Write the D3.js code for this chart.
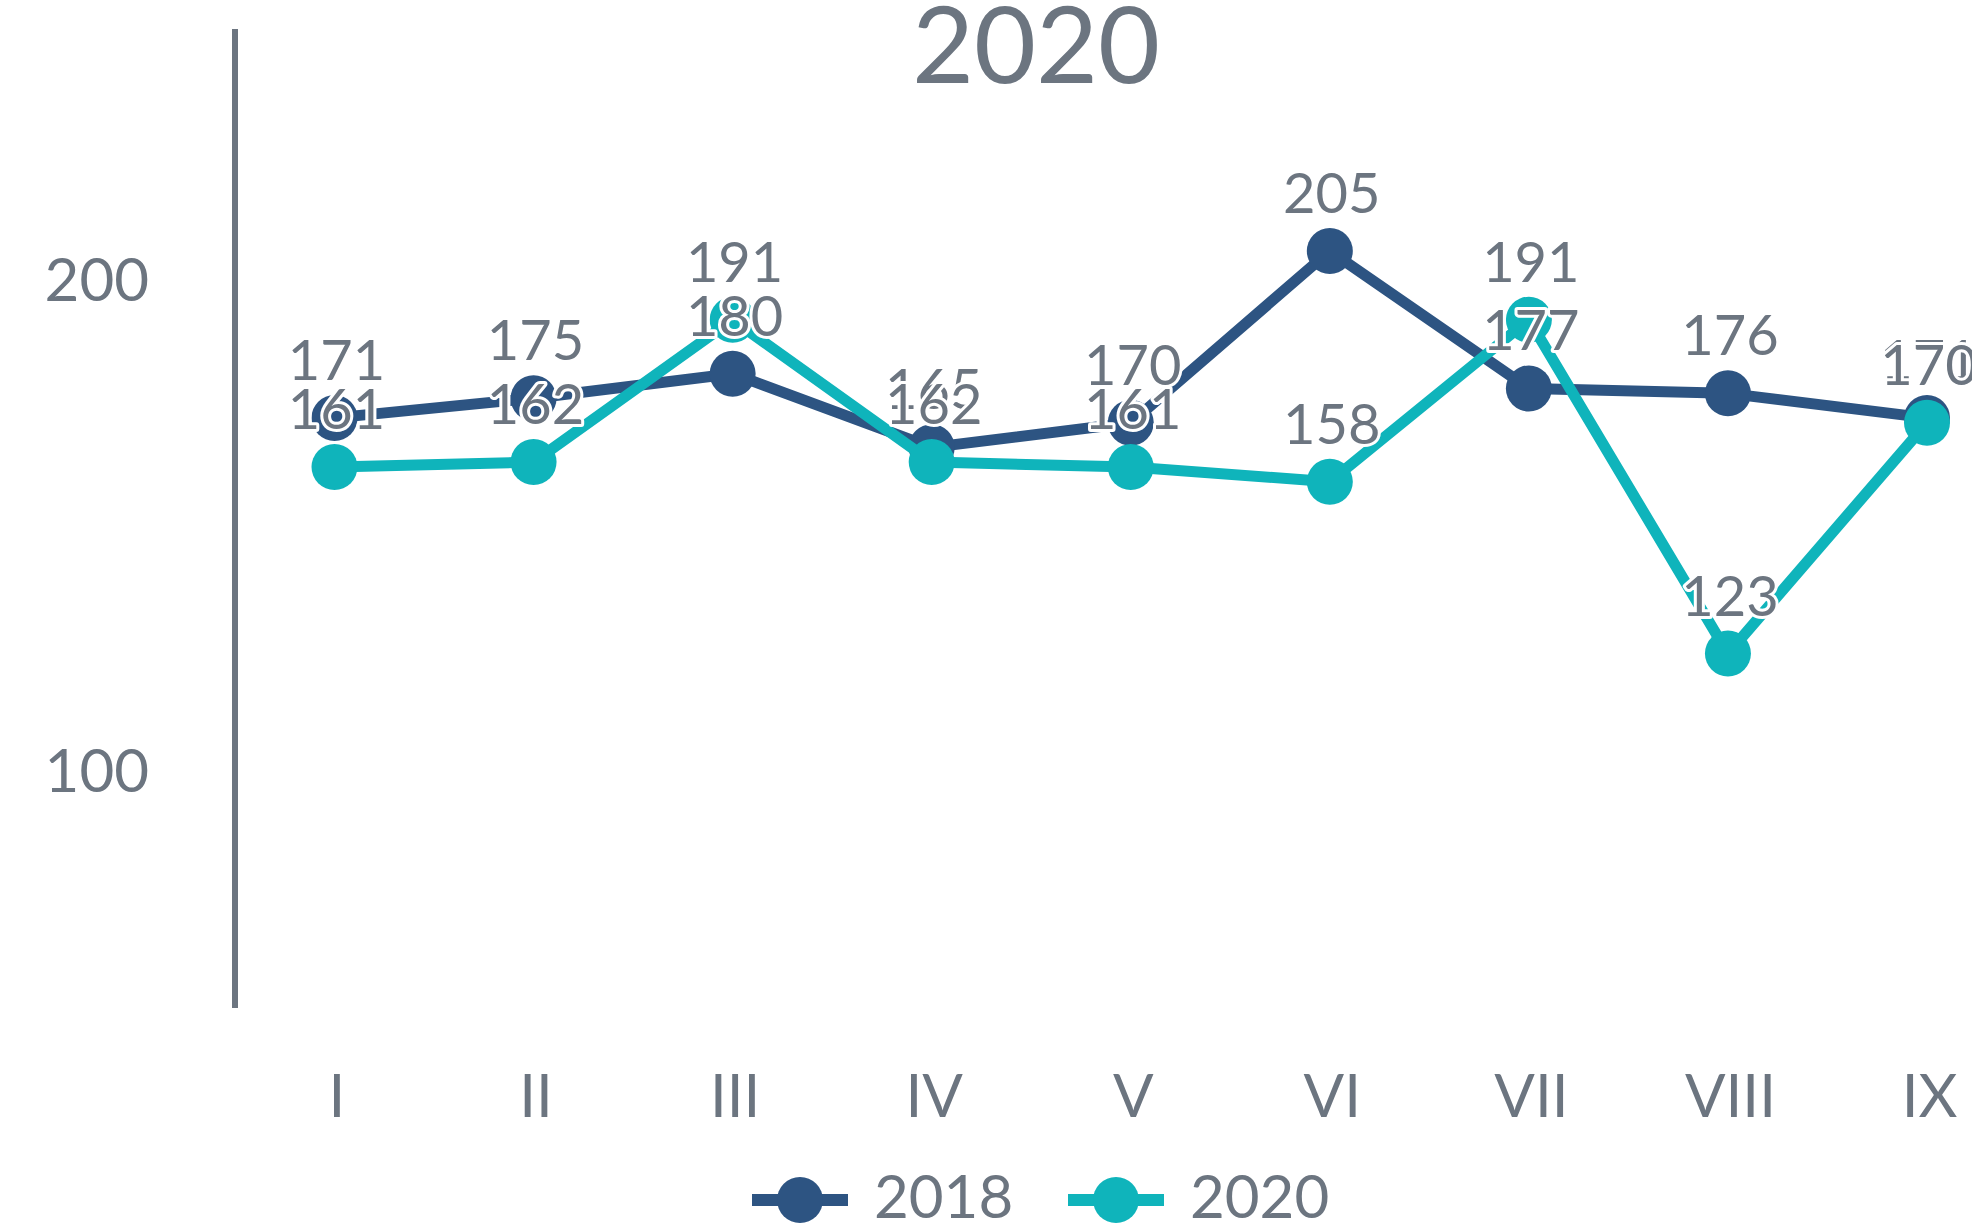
<!DOCTYPE html>
<html><head><meta charset="utf-8">
<script src="https://cdn.jsdelivr.net/npm/d3@7"></script>
<style>
html,body{margin:0;padding:0;background:#fff;overflow:hidden;}
svg{display:block;}
text{font-family:Lato,"Noto Sans",sans-serif;fill:#6c7580;}
</style></head>
<body>
<svg id="chart" width="1972" height="1226"></svg>
<script>
const categories = ["I","II","III","IV","V","VI","VII","VIII","IX"];
const series2018 = [171,175,180,165,170,205,177,176,171];
const series2020 = [161,162,191,162,161,158,191,123,170];
const seriesNames = ["2018","2020"];
const seriesColors = ["#2d5482","#0fb4bb"];
const yTicks = [100,200];
const titleText = "2020";

const svg = d3.select("#chart");
const x = d3.scalePoint().domain(categories).range([334.5,1927]);
const y = d3.scaleLinear().domain([50,250]).range([1012,30]);
const gray = "#6c7580";

// title
svg.append("text").attr("x",1036).attr("y",83).attr("text-anchor","middle")
  .attr("font-size",107).text(titleText);

// y axis
const yAxis = d3.axisLeft(y).tickValues(yTicks).tickSize(0).tickPadding(0).tickFormat(d3.format("d"));
const gy = svg.append("g").attr("transform","translate(235,0)").call(yAxis);
gy.select(".domain").remove();
gy.selectAll("text").attr("x",-86).attr("dy",null).attr("dominant-baseline",null)
  .attr("transform","translate(0,25)")
  .attr("font-size",60).attr("fill",gray).style("font-family","Lato");
svg.append("line").attr("x1",235).attr("x2",235).attr("y1",29).attr("y2",1008)
  .attr("stroke",gray).attr("stroke-width",6);

// x axis labels
const xAxis = d3.axisBottom(x).tickSize(0).tickPadding(0);
const gx = svg.append("g").attr("transform","translate(2,1117)").call(xAxis);
gx.select(".domain").remove();
gx.selectAll("text").attr("y",0).attr("dy",null).attr("font-size",60).attr("fill",gray).style("font-family","Lato");

const data = [series2018, series2020];
const line = d3.line().x((d,i)=>x(categories[i])).y(d=>y(d));

data.forEach((vals,si)=>{
  const g = svg.append("g");
  g.append("path").datum(vals).attr("d",line).attr("fill","none")
    .attr("stroke",seriesColors[si]).attr("stroke-width",11).attr("stroke-linejoin","round");
  g.selectAll("circle").data(vals).join("circle")
    .attr("cx",(d,i)=>x(categories[i])).attr("cy",d=>y(d)).attr("r",23)
    .attr("fill",seriesColors[si]);
});

data.forEach((vals,si)=>{
  svg.append("g").selectAll("text").data(vals).join("text")
    .attr("x",(d,i)=>x(categories[i])+2).attr("y",d=>y(d)-38)
    .attr("text-anchor","middle").attr("font-size",56)
    .attr("stroke","#fff").attr("stroke-width",6).attr("stroke-linejoin","round")
    .attr("paint-order","stroke").attr("fill",gray)
    .text(d=>d);
});

// legend
const legendX = [752,1068];
seriesNames.forEach((name,i)=>{
  const g = svg.append("g").attr("transform",`translate(${legendX[i]},1200)`);
  g.append("line").attr("x1",0).attr("x2",96).attr("y1",0).attr("y2",0)
    .attr("stroke",seriesColors[i]).attr("stroke-width",12);
  g.append("circle").attr("cx",48).attr("cy",0).attr("r",23).attr("fill",seriesColors[i]);
  g.append("text").attr("x",122).attr("y",18).attr("font-size",60).attr("fill",gray).text(name);
});
</script>
</body></html>
